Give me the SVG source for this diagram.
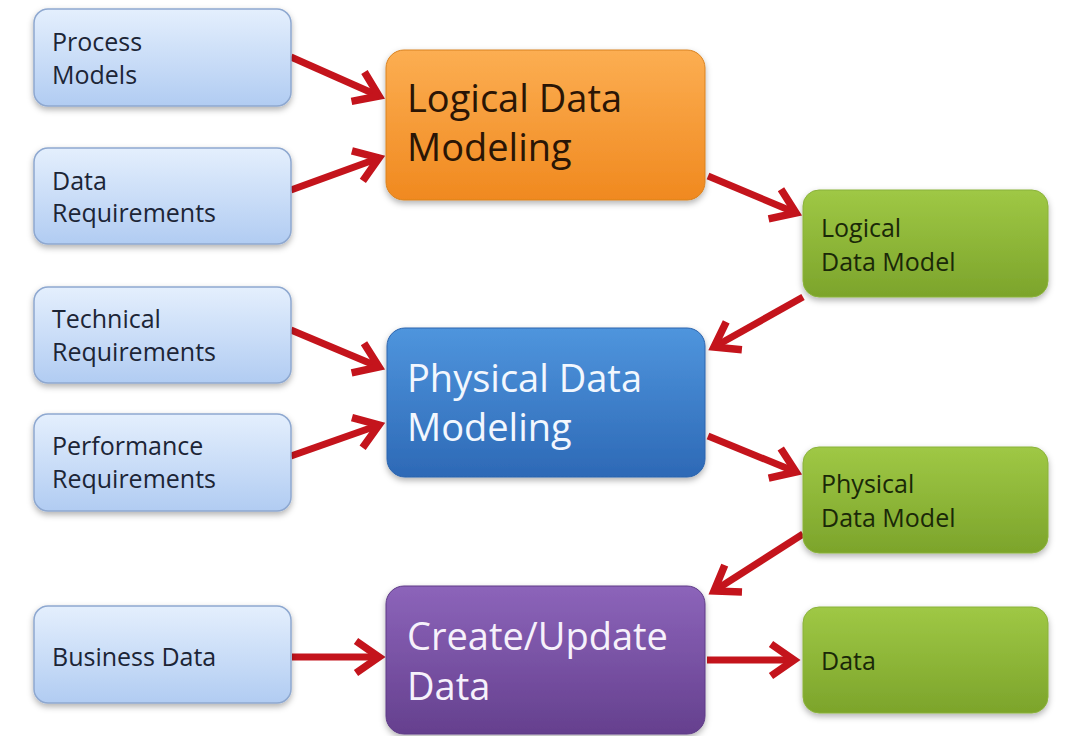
<svg xmlns="http://www.w3.org/2000/svg" width="1065" height="736" viewBox="0 0 1065 736">
<style>
.in{fill:url(#gIn);stroke:#8ea8d0;stroke-width:1.5;filter:url(#sh)}
.cen{stroke-width:1;filter:url(#sh)}
.out{fill:url(#gGr);stroke:#8ab23a;stroke-width:1;filter:url(#sh)}
text{font-family:"Open Sans","Noto Sans","Liberation Sans",sans-serif}
.t-in{font-size:25px;fill:#1c2536}
.t-cen{font-size:38px}
.t-out{font-size:25px;fill:#1a2808}
.conn{fill:none;stroke:#c4141c;stroke-width:7;marker-end:url(#arr)}
</style>
<defs>
<linearGradient id="gIn" x1="0" y1="0" x2="0" y2="1"><stop offset="0" stop-color="#e4effd"/><stop offset="1" stop-color="#b1ccf2"/></linearGradient>
<linearGradient id="gOr" x1="0" y1="0" x2="0" y2="1"><stop offset="0" stop-color="#fcae52"/><stop offset="1" stop-color="#f0891f"/></linearGradient>
<linearGradient id="gBl" x1="0" y1="0" x2="0" y2="1"><stop offset="0" stop-color="#4f95dd"/><stop offset="1" stop-color="#2d69b6"/></linearGradient>
<linearGradient id="gPu" x1="0" y1="0" x2="0" y2="1"><stop offset="0" stop-color="#8c64ba"/><stop offset="1" stop-color="#65408e"/></linearGradient>
<linearGradient id="gGr" x1="0" y1="0" x2="0" y2="1"><stop offset="0" stop-color="#9fc845"/><stop offset="1" stop-color="#7ca42b"/></linearGradient>
<filter id="sh" x="-10%" y="-10%" width="120%" height="130%"><feDropShadow dx="0" dy="3" stdDeviation="3" flood-color="#000" flood-opacity="0.3"/></filter>
<marker id="arr" markerUnits="userSpaceOnUse" markerWidth="40" markerHeight="40" refX="0" refY="0" orient="auto" style="overflow:visible"><path d="M-23,-16 L0,0 L-23,16" fill="none" stroke="#c4141c" stroke-width="7.5" stroke-linejoin="miter"/></marker>
</defs>
<rect width="1065" height="736" fill="#ffffff"/>
<g id="connectors">
<path class="conn" d="M291,57 L379,96"/>
<path class="conn" d="M291,190 L379,158"/>
<path class="conn" d="M708,176 L796,213"/>
<path class="conn" d="M803,297 L714,347"/>
<path class="conn" d="M291,330 L379,367"/>
<path class="conn" d="M291,456 L379,425"/>
<path class="conn" d="M708,436 L796,472"/>
<path class="conn" d="M803,534 L714,591"/>
<path class="conn" d="M292,657 L379,657"/>
<path class="conn" d="M707,660 L794,660"/>
</g>
<g id="process-models"><rect class="in" x="34" y="9" width="257" height="97" rx="14"/><text class="t-in" x="52" y="51">Process</text><text class="t-in" x="52" y="84">Models</text></g>
<g id="data-requirements"><rect class="in" x="34" y="148" width="257" height="96" rx="14"/><text class="t-in" x="52" y="190">Data</text><text class="t-in" x="52" y="222">Requirements</text></g>
<g id="technical-requirements"><rect class="in" x="34" y="287" width="257" height="96" rx="14"/><text class="t-in" x="52" y="328">Technical</text><text class="t-in" x="52" y="361">Requirements</text></g>
<g id="performance-requirements"><rect class="in" x="34" y="414" width="257" height="97" rx="14"/><text class="t-in" x="52" y="455">Performance</text><text class="t-in" x="52" y="488">Requirements</text></g>
<g id="business-data"><rect class="in" x="34" y="606" width="257" height="97" rx="14"/><text class="t-in" x="52" y="666">Business Data</text></g>
<g id="logical-data-modeling"><rect class="cen" x="386" y="50" width="319" height="150" rx="18" fill="url(#gOr)" stroke="#d9821f"/><text class="t-cen" x="407" y="112" fill="#2a1505">Logical Data</text><text class="t-cen" x="407" y="161" fill="#2a1505">Modeling</text></g>
<g id="physical-data-modeling"><rect class="cen" x="387" y="328" width="318" height="149" rx="18" fill="url(#gBl)" stroke="#2c64ad"/><text class="t-cen" x="407" y="392" fill="#f2f7fe">Physical Data</text><text class="t-cen" x="407" y="441" fill="#f2f7fe">Modeling</text></g>
<g id="create-update-data"><rect class="cen" x="386" y="586" width="319" height="148" rx="18" fill="url(#gPu)" stroke="#5e3b86"/><text class="t-cen" x="407" y="650" fill="#f6f1fb">Create/Update</text><text class="t-cen" x="407" y="700" fill="#f6f1fb">Data</text></g>
<g id="logical-data-model"><rect class="out" x="803" y="190" width="245" height="107" rx="16"/><text class="t-out" x="821" y="237">Logical</text><text class="t-out" x="821" y="271">Data Model</text></g>
<g id="physical-data-model"><rect class="out" x="803" y="447" width="245" height="106" rx="16"/><text class="t-out" x="821" y="493">Physical</text><text class="t-out" x="821" y="527">Data Model</text></g>
<g id="data"><rect class="out" x="803" y="607" width="245" height="106" rx="16"/><text class="t-out" x="821" y="670">Data</text></g>
</svg>
